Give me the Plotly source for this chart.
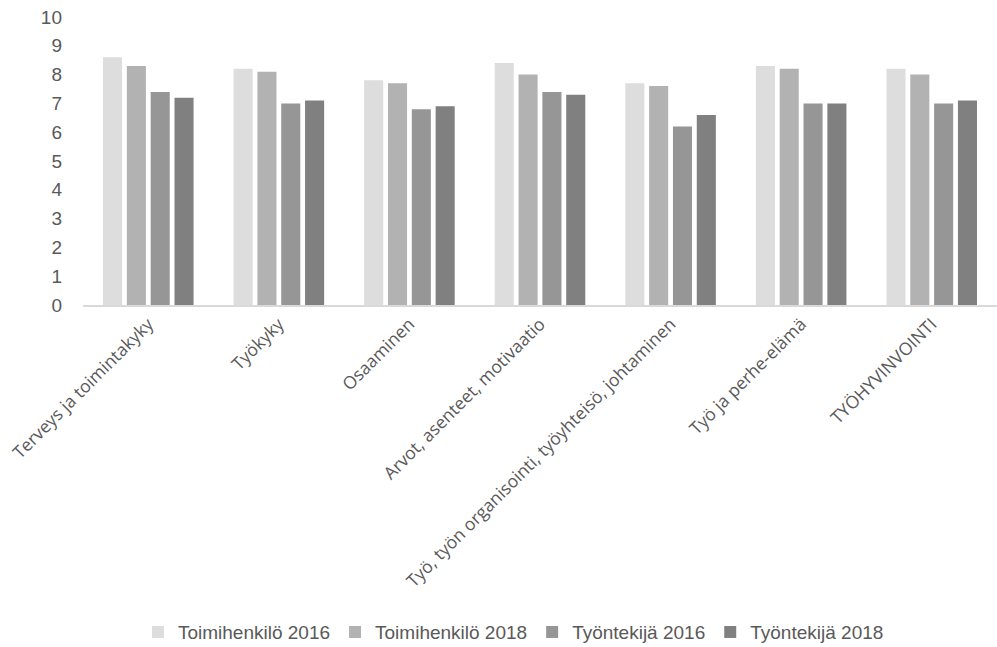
import plotly.graph_objects as go

categories = [
    "Terveys ja toimintakyky",
    "Työkyky",
    "Osaaminen",
    "Arvot, asenteet, motivaatio",
    "Työ, työn organisointi, työyhteisö, johtaminen",
    "Työ ja perhe-elämä",
    "TYÖHYVINVOINTI",
]
series_names = ["Toimihenkilö 2016", "Toimihenkilö 2018", "Työntekijä 2016", "Työntekijä 2018"]
toimihenkilo_2016 = [8.6, 8.2, 7.8, 8.4, 7.7, 8.3, 8.2]
toimihenkilo_2018 = [8.3, 8.1, 7.7, 8.0, 7.6, 8.2, 8.0]
tyontekija_2016 = [7.4, 7.0, 6.8, 7.4, 6.2, 7.0, 7.0]
tyontekija_2018 = [7.2, 7.1, 6.9, 7.3, 6.6, 7.0, 7.1]
y_ticks = [0, 1, 2, 3, 4, 5, 6, 7, 8, 9, 10]

colors = ["#DDDDDD", "#B2B2B2", "#969696", "#808080"]
values = [toimihenkilo_2016, toimihenkilo_2018, tyontekija_2016, tyontekija_2018]

fig = go.Figure()
for name, vals, col in zip(series_names, values, colors):
    fig.add_trace(go.Bar(
        x=categories, y=vals, name=name,
        marker=dict(color=col, line=dict(width=0)),
    ))

narrow = "Liberation Sans Narrow, Arial Narrow, sans-serif"
fig.update_layout(
    width=997, height=647,
    margin=dict(l=83, r=0, t=17, b=342),
    paper_bgcolor="white", plot_bgcolor="white",
    barmode="group", bargap=0.27, bargroupgap=0.2,
    showlegend=True,
    legend=dict(
        orientation="h", xref="container", yref="container",
        x=0.515, xanchor="center", y=0.023, yanchor="middle",
        font=dict(family=narrow, size=19, color="#595959"),
        itemwidth=30, traceorder="normal",
    ),
    xaxis=dict(
        tickangle=-45, showline=True, linecolor="#D9D9D9", linewidth=2,
        ticks="", tickfont=dict(family="Open Sans, sans-serif", size=17.5, color="#595959"),
        showgrid=False,
    ),
    yaxis=dict(
        range=[0, 10], tickvals=y_ticks, showgrid=False, zeroline=False,
        showline=False, ticks="", ticklabelstandoff=20,
        tickfont=dict(family=narrow, size=19, color="#595959"),
    ),
)

fig.write_html("out.html")
